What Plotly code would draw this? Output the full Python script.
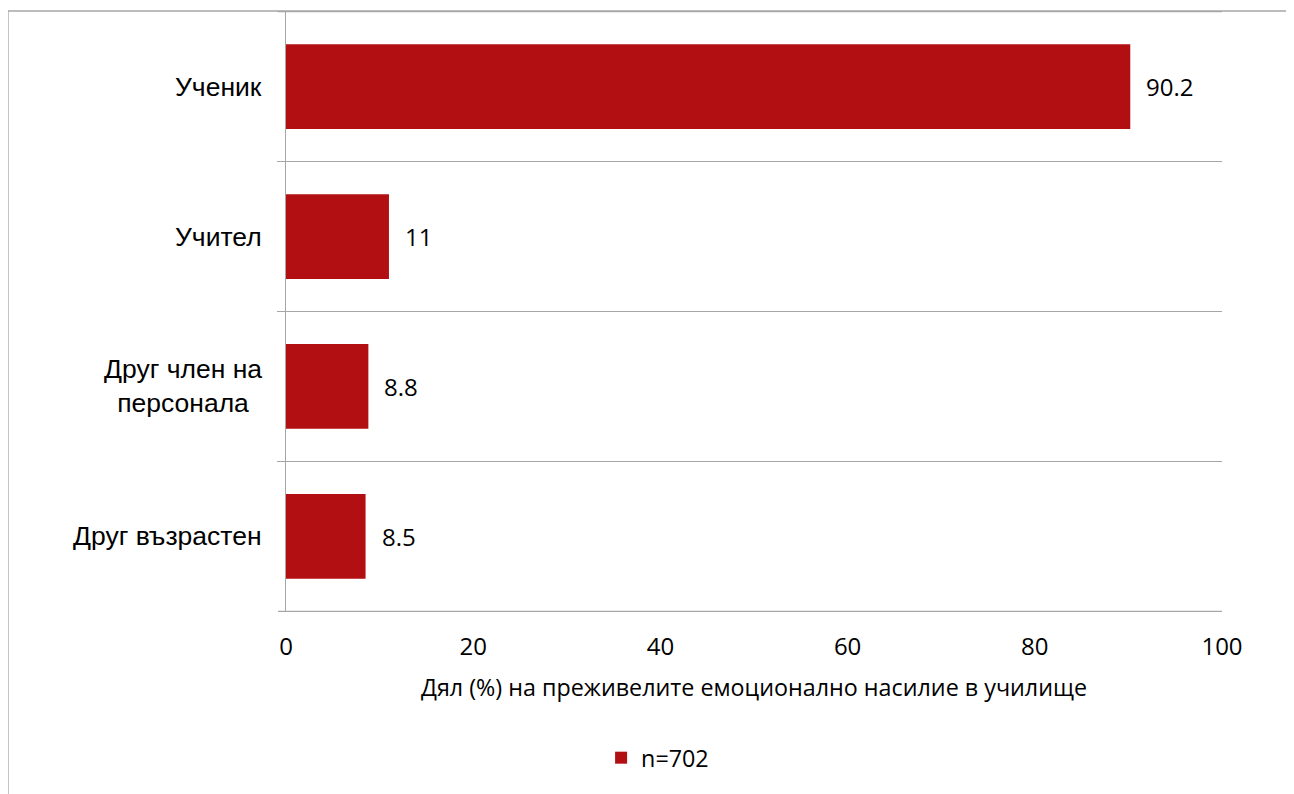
import plotly.graph_objects as go

categories = ["Ученик", "Учител", "Друг член на<br>персонала", "Друг възрастен"]
values = [90.2, 11, 8.8, 8.5]
value_labels = ["90.2", "11", "8.8", "8.5"]
series_name = "n=702"
x_ticks = [0, 20, 40, 60, 80, 100]
x_title = "Дял (%) на преживелите емоционално насилие в училище"

BAR = "#B20F12"
GRID = "#A6A6A6"
NUMFONT = "Open Sans"
CATFONT = "Liberation Sans"

fig = go.Figure()
fig.add_trace(go.Bar(
    y=categories, x=values, orientation="h", name=series_name,
    marker=dict(color=BAR, line=dict(width=0)),
    showlegend=True,
))

# data labels
for c, v, t in zip(categories, values, value_labels):
    fig.add_annotation(x=v, y=c, xref="x", yref="y", text=t, showarrow=False,
                       xanchor="left", yanchor="middle", xshift=14,
                       font=dict(family=NUMFONT, size=24, color="#000000"))

# category labels (centered multi-line)
for c in categories:
    fig.add_annotation(x=0, y=c, xref="paper", yref="y", text=c, showarrow=False,
                       xanchor="right", yanchor="middle", xshift=-22, align="center",
                       font=dict(family=CATFONT, size=26.5, color="#000000"))

# outer chart border (cropped on right/bottom)
fig.add_shape(type="rect", xref="paper", yref="paper",
              x0=-0.297, x1=1.3, y0=-0.5, y1=1.0,
              line=dict(color=GRID, width=1.3), fillcolor="rgba(0,0,0,0)", layer="below")

# category boundary lines at the outer edges (with tick extension)
for yb in [-0.5, len(categories) - 0.5]:
    fig.add_shape(type="line", xref="paper", yref="y",
                  x0=-8 / 936, x1=1.0, y0=yb, y1=yb,
                  line=dict(color=GRID, width=1.3), layer="below")

fig.update_layout(
    width=1294, height=794,
    margin=dict(l=278, r=80, t=3, b=190),
    paper_bgcolor="white", plot_bgcolor="white",
    bargap=0.435,
    font=dict(family=NUMFONT, size=23.3, color="#000000"),
    legend=dict(orientation="h", x=0.397, y=-0.243, xanchor="center", yanchor="middle",
                font=dict(family=NUMFONT, size=23.3), itemwidth=30),
    xaxis=dict(range=[0, 100], tickvals=x_ticks, showgrid=False, zeroline=False,
               showline=False, ticks="outside", ticklen=13, tickcolor="rgba(0,0,0,0)",
               tickfont=dict(family=NUMFONT, size=24),
               title=dict(text=x_title, font=dict(family=NUMFONT, size=23.3), standoff=18)),
    yaxis=dict(type="category", autorange="reversed", tickson="boundaries",
               ticks="outside", ticklen=8, tickcolor=GRID, tickwidth=1.3,
               showgrid=True, gridcolor=GRID, gridwidth=1.3,
               showline=True, linecolor=GRID, linewidth=1.3,
               showticklabels=False, zeroline=False),
)

fig.write_html("out.html")
